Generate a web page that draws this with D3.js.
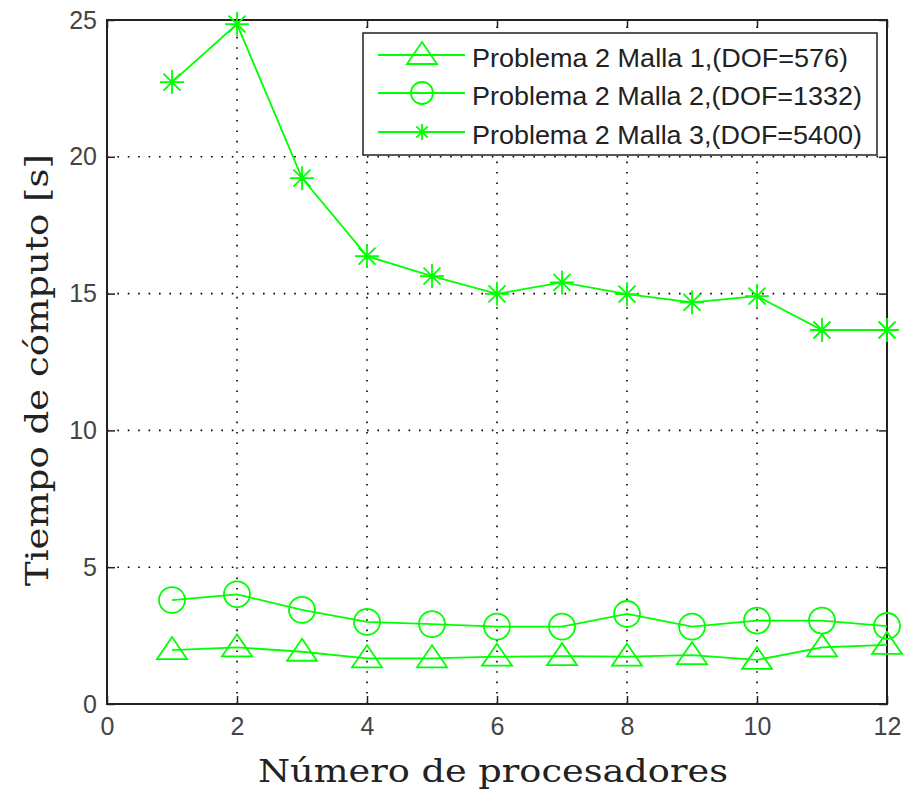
<!DOCTYPE html>
<html><head><meta charset="utf-8">
<script src="https://cdn.jsdelivr.net/npm/d3@7"></script>
<style>body{margin:0;background:#fff}svg{display:block}</style>
</head><body>
<script>
const procs = [1,2,3,4,5,6,7,8,9,10,11,12];
const malla1 = [1.97,2.07,1.91,1.67,1.67,1.73,1.75,1.73,1.79,1.61,2.07,2.16];
const malla2 = [3.80,4.01,3.44,3.00,2.92,2.83,2.83,3.29,2.83,3.05,3.05,2.85];
const malla3 = [22.73,24.85,19.22,16.37,15.64,14.99,15.41,14.98,14.68,14.91,13.67,13.67];
const seriesNames = ["Problema 2 Malla 1,(DOF=576)","Problema 2 Malla 2,(DOF=1332)","Problema 2 Malla 3,(DOF=5400)"];
const xTicks = [0,2,4,6,8,10,12];
const yTicks = [0,5,10,15,20,25];

const W=905,H=797;
const L=107,R=887,T=20,B=704;
const svg=d3.select("body").append("svg").attr("width",W).attr("height",H);
const x=d3.scaleLinear().domain([0,12]).range([L,R]);
const y=d3.scaleLinear().domain([0,25]).range([B,T]);
const green="#00ff00";

// grid
const g=svg.append("g");
g.selectAll(".vg").data(xTicks.slice(1,-1)).enter().append("line")
 .attr("x1",d=>x(d)).attr("x2",d=>x(d)).attr("y1",B).attr("y2",T)
 .attr("stroke","#000").attr("stroke-width",1.6).attr("stroke-dasharray","1.6,8.8");
g.selectAll(".hg").data(yTicks.slice(1,-1)).enter().append("line")
 .attr("y1",d=>y(d)).attr("y2",d=>y(d)).attr("x1",L).attr("x2",R)
 .attr("stroke","#000").attr("stroke-width",1.6).attr("stroke-dasharray","1.6,8.8");

// axes
const tickFont='"Liberation Sans", Arial, sans-serif';
const xa=svg.append("g").attr("transform",`translate(0,${B})`)
 .call(d3.axisBottom(x).tickValues(xTicks).tickSize(-8).tickPadding(13).tickFormat(d3.format("d")));
const xt=svg.append("g").attr("transform",`translate(0,${T})`)
 .call(d3.axisTop(x).tickValues(xTicks).tickSize(-8).tickFormat(""));
const ya=svg.append("g").attr("transform",`translate(${L},0)`)
 .call(d3.axisLeft(y).tickValues(yTicks).tickSize(-8).tickPadding(10).tickFormat(d3.format("d")));
const yr=svg.append("g").attr("transform",`translate(${R},0)`)
 .call(d3.axisRight(y).tickValues(yTicks).tickSize(-8).tickFormat(""));
[xa,xt,ya,yr].forEach(a=>{
  a.select(".domain").remove();
  a.selectAll("line").attr("stroke","#222").attr("stroke-width",1.5);
  a.selectAll("text").attr("font-family",tickFont).attr("font-size",25).attr("fill","#444");
});
svg.append("rect").attr("x",L).attr("y",T).attr("width",R-L).attr("height",B-T)
 .attr("fill","none").attr("stroke","#222").attr("stroke-width",2);

// markers
function drawMarker(sel,type,small){
  if(type==="tri"){
    sel.append("path").attr("d","M0,-13 L15,9 L-15,9 Z");
  } else if(type==="circ"){
    sel.append("circle").attr("r",small?11:13);
  } else {
    const s=small?8:12,d=small?5.7:8.5;
    sel.append("path").attr("d",`M${-s},0L${s},0M0,${-s}L0,${s}M${-d},${-d}L${d},${d}M${-d},${d}L${d},${-d}`);
  }
  sel.attr("fill","none").attr("stroke",green).attr("stroke-width",1.8);
}
const series=[{v:malla1,m:"tri"},{v:malla2,m:"circ"},{v:malla3,m:"star"}];
const line=d3.line().x((d,i)=>x(procs[i])).y(d=>y(d));
series.forEach(s=>{
  svg.append("path").datum(s.v).attr("d",line).attr("fill","none")
   .attr("stroke",green).attr("stroke-width",1.8);
  s.v.forEach((d,i)=>{
    const m=svg.append("g").attr("transform",`translate(${x(procs[i])},${y(d)})`);
    drawMarker(m,s.m,false);
  });
});

// legend
const lg=svg.append("g");
lg.append("rect").attr("x",363).attr("y",33).attr("width",514).attr("height",122)
 .attr("fill","#fff").attr("stroke","#222").attr("stroke-width",1.5);
const ly=[55,93,132];
const tl=[376,390,390];
series.forEach((s,i)=>{
  lg.append("line").attr("x1",378).attr("x2",465).attr("y1",ly[i]).attr("y2",ly[i])
   .attr("stroke",green).attr("stroke-width",1.8);
  drawMarker(lg.append("g").attr("transform",`translate(422,${ly[i]})`),s.m,true);
  lg.append("text").attr("x",472).attr("y",ly[i]+12).text(seriesNames[i])
   .attr("font-family",tickFont).attr("font-size",26).attr("fill","#222")
   .attr("textLength",tl[i]).attr("lengthAdjust","spacingAndGlyphs");
});

// axis labels
svg.append("text").attr("x",493).attr("y",782).attr("text-anchor","middle")
 .attr("font-family",'"DejaVu Serif", serif').attr("font-size",31).attr("fill","#222")
 .attr("textLength",470).attr("lengthAdjust","spacingAndGlyphs")
 .text("Número de procesadores");
svg.append("text").attr("transform","translate(48,370) rotate(-90)").attr("text-anchor","middle")
 .attr("font-family",'"DejaVu Serif", serif').attr("font-size",31).attr("fill","#222")
 .attr("textLength",432).attr("lengthAdjust","spacingAndGlyphs")
 .text("Tiempo de cómputo [s]");
</script>
</body></html>
